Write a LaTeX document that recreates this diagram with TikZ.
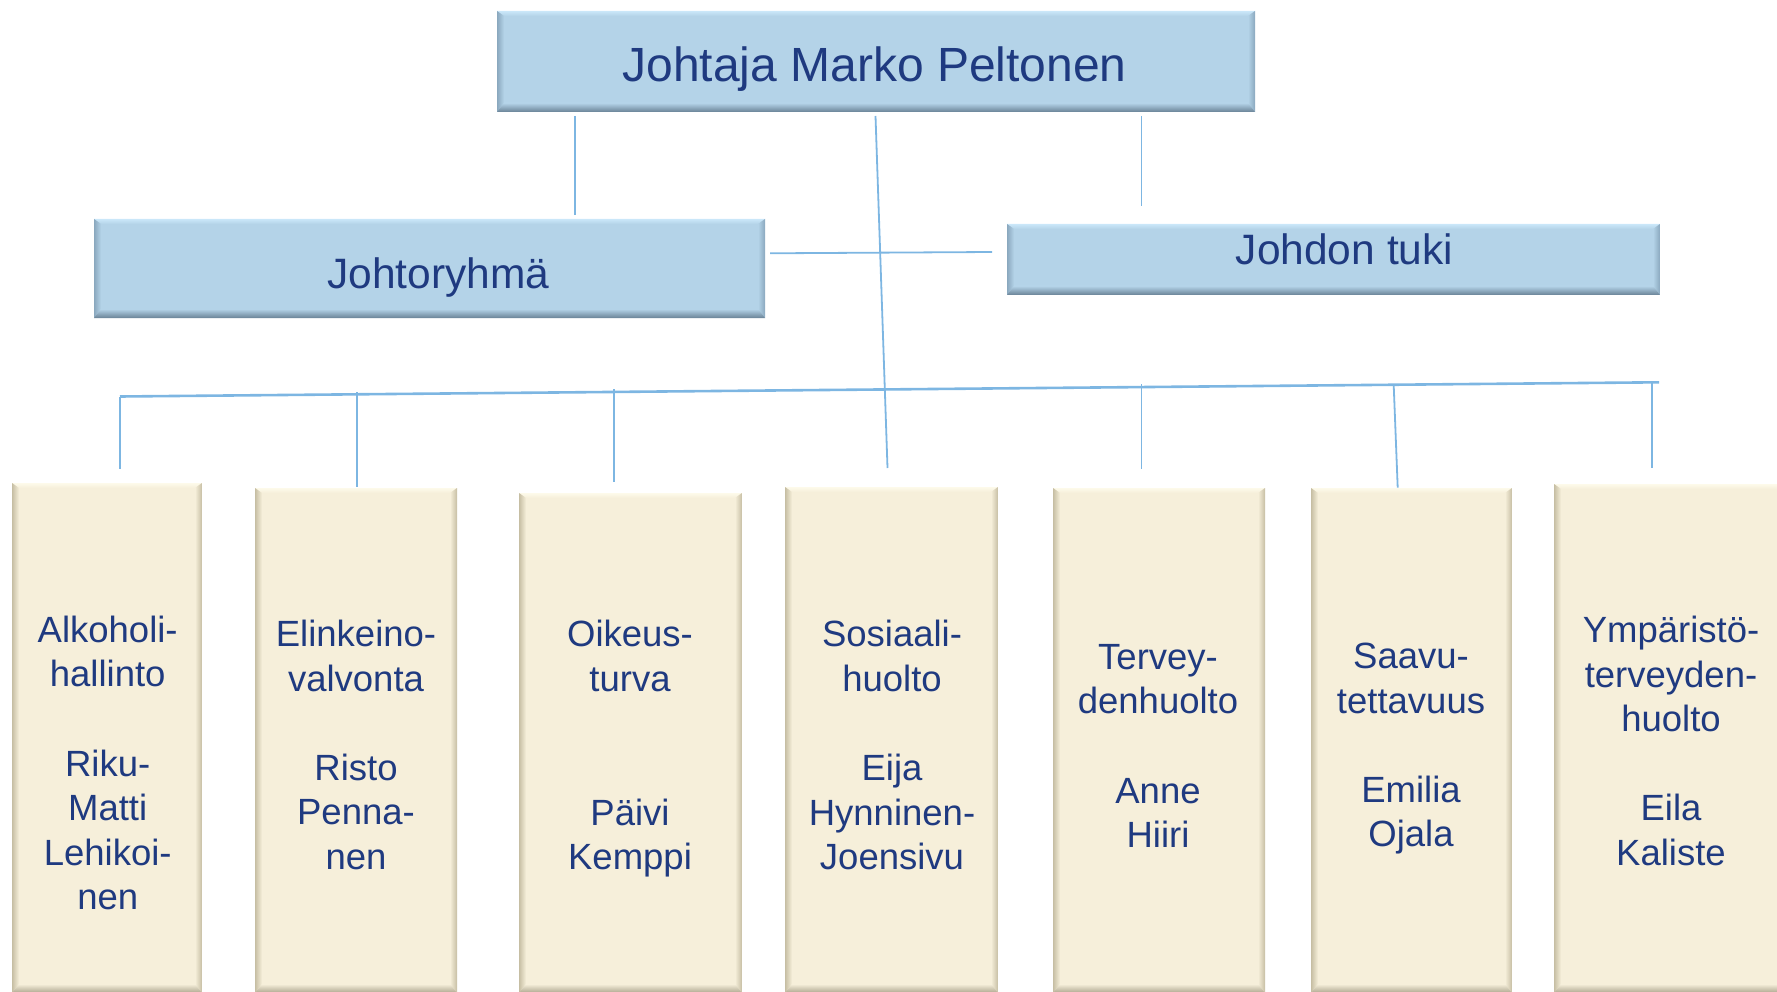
\documentclass[tikz,border=0pt]{standalone}
\usepackage{fontspec}
\setmainfont{Liberation Sans}
\usetikzlibrary{fit}
\definecolor{txtblue}{RGB}{31,58,128}
\definecolor{lineblue}{RGB}{125,182,226}
\definecolor{bluebase}{RGB}{180,211,232}
\definecolor{bluetop}{RGB}{202,231,249}
\definecolor{blueside}{RGB}{138,168,190}
\definecolor{bluebot}{RGB}{105,130,150}
\definecolor{creambase}{RGB}{246,239,218}
\definecolor{creamtop}{RGB}{253,250,234}
\definecolor{creamside}{RGB}{198,190,163}
\definecolor{creambot}{RGB}{172,165,142}
\newcommand\bevelfill[5]{%
  \coordinate (pNW) at (path picture bounding box.north west);
  \coordinate (pNE) at (path picture bounding box.north east);
  \coordinate (pSW) at (path picture bounding box.south west);
  \coordinate (pSE) at (path picture bounding box.south east);
  \shade[top color=#1,bottom color=#5] (pNW) -- (pNE) -- ([shift={(-7,5)}]pNE) -- ([shift={(7,5)}]pNW) -- cycle;
  \shade[left color=#2,right color=#5] (pNW) -- ([shift={(7,5)}]pNW) -- ([shift={(7,-9)}]pSW) -- (pSW) -- cycle;
  \shade[left color=#5,right color=#3] (pNE) -- ([shift={(-7,5)}]pNE) -- ([shift={(-7,-9)}]pSE) -- (pSE) -- cycle;
  \shade[top color=#5,bottom color=#4] (pSW) -- ([shift={(7,-9)}]pSW) -- ([shift={(-7,-9)}]pSE) -- (pSE) -- cycle;
}
\tikzset{
  bevelbox/.style n args={5}{rectangle, inner sep=0pt, draw=none, fill=#5,
    path picture={\bevelfill{#1}{#2}{#3}{#4}{#5}}},
  bluebox/.style={bevelbox={bluetop}{blueside}{blueside}{bluebot}{bluebase}},
  creambox/.style={bevelbox={creamtop}{creamside}{creamside}{creambot}{creambase}},
  bigtxt/.style={anchor=base, text=txtblue, inner sep=0pt},
  unittxt/.style={anchor=north, text=txtblue, inner sep=0pt, align=center,
    font=\fontsize{36.5}{44.6}\selectfont},
  conn/.style={draw=lineblue, line width=1.8pt},
  busline/.style={draw=lineblue, line width=2.6pt},
}
\begin{document}
\begin{tikzpicture}[x=1pt,y=-1pt]
\useasboundingbox (0,0) rectangle (1777,992);
% boxes
\node[bluebox, fit={(497,11) (1255,112)}] (top) {};
\node[bluebox, fit={(94,219) (765,318)}] (jr) {};
\node[bluebox, fit={(1007,224) (1660,295)}] (jt) {};
\node[creambox, fit={(12,483) (202,993)}] (b1) {};
\node[creambox, fit={(255,488) (457,993)}] (b2) {};
\node[creambox, fit={(519,493) (742,993)}] (b3) {};
\node[creambox, fit={(785,487) (998,993)}] (b4) {};
\node[creambox, fit={(1053,488) (1265,993)}] (b5) {};
\node[creambox, fit={(1311,488) (1512,993)}] (b6) {};
\node[creambox, fit={(1554,484) (1790,993)}] (b7) {};
% texts
\node[bigtxt, font=\fontsize{48}{57}\selectfont] (ttop) at (874.5,81.7) {Johtaja Marko Peltonen};
\node[bigtxt, font=\fontsize{42.5}{51}\selectfont] (tjr) at (438.5,288.3) {Johtoryhmä};
\node[bigtxt, font=\fontsize{42.5}{51}\selectfont] (tjt) at (1344.5,265) {Johdon tuki};
\node[unittxt] (t1) at (107.7,610.8) {\strut Alkoholi-\\hallinto\\~\\Riku-\\Matti\\Lehikoi-\\nen};
\node[unittxt] (t2) at (356,615.1) {\strut Elinkeino-\\valvonta\\~\\Risto\\Penna-\\nen};
\node[unittxt] (t3) at (630,615.3) {\strut Oikeus-\\turva\\~\\~\\Päivi\\Kemppi};
\node[unittxt] (t4) at (892,615.3) {\strut Sosiaali-\\huolto\\~\\Eija\\Hynninen-\\Joensivu};
\node[unittxt] (t5) at (1158,637.8) {\strut Tervey-\\denhuolto\\~\\Anne\\Hiiri};
\node[unittxt] (t6) at (1411,637.1) {\strut Saavu-\\tettavuus\\~\\Emilia\\Ojala};
\node[unittxt] (t7) at (1671,611.1) {\strut Ympäristö-\\terveyden-\\huolto\\~\\Eila\\Kaliste};
% connector end points
\coordinate (tlA) at (575,116);    \coordinate (tlB) at (575,215);
\coordinate (trA) at (1141.5,116); \coordinate (trB) at (1141.5,206);
\coordinate (cA) at (875.5,116);   \coordinate (cB) at (887.5,468);
\coordinate (hA) at (770,253.3);   \coordinate (hB) at (992,252);
\coordinate (busL) at (120,396.5); \coordinate (busR) at (1659,382.3);
\coordinate (d1B) at (120,469);
\coordinate (d2A) at (357,392);    \coordinate (d2B) at (357,487);
\coordinate (d3A) at (613.7,389);  \coordinate (d3B) at (613.7,482);
\coordinate (d5A) at (1141.4,384); \coordinate (d5B) at (1141.4,469);
\coordinate (d6A) at (1393.7,385.2); \coordinate (d6B) at (1397.7,487.7);
\coordinate (d7A) at (1651.7,382.7); \coordinate (d7B) at (1651.7,467.7);
% connectors
\draw[conn] (tlA) -- (tlB);
\draw[conn] (trA) -- (trB);
\draw[conn] (cA) -- (cB);
\draw[conn] (hA) -- (hB);
\draw[busline] (busL) -- (busR);
\draw[busline] (busL) -- (d1B);
\draw[conn] (d2A) -- (d2B);
\draw[conn] (d3A) -- (d3B);
\draw[conn] (d5A) -- (d5B);
\draw[conn] (d6A) -- (d6B);
\draw[conn] (d7A) -- (d7B);
\end{tikzpicture}
\end{document}
